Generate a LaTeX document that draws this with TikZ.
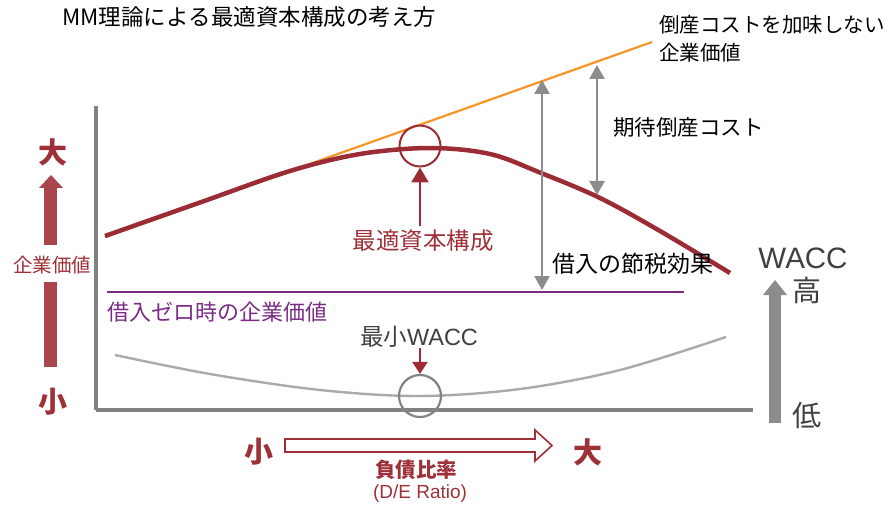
\documentclass[tikz,border=0pt]{standalone}
\usepackage{fontspec}
\setmainfont{Noto Sans CJK JP}[Kerning=Off]
\newfontfamily\latf{Liberation Sans}
\usetikzlibrary{arrows.meta}
\definecolor{dred}{RGB}{155,44,54}
\definecolor{tred}{RGB}{158,48,56}
\definecolor{ared}{RGB}{168,69,77}
\definecolor{orng}{RGB}{247,148,38}
\definecolor{purp}{RGB}{123,45,134}
\definecolor{gArr}{RGB}{140,140,140}
\definecolor{gCurve}{RGB}{170,170,170}
\definecolor{gAxis}{RGB}{130,130,130}
\definecolor{dtext}{RGB}{64,64,64}
\newcommand{\fs}[1]{\fontsize{#1}{#1}\selectfont}
\makeatletter
\newcommand\fwtext[1]{\@tfor\fwc:=#1\do{\makebox[1em]{\fwc}}}
\makeatother
\tikzset{
  lbl/.style={inner sep=0pt, font=\fs{20}},
  dblarr/.style={gArr, line width=2.6pt, {Triangle[length=14pt,width=15pt]}-{Triangle[length=14pt,width=15pt]}},
  redarr/.style={dred, line width=2.6pt, -{Triangle[length=15pt,width=17pt]}},
}
\begin{document}
\begin{tikzpicture}[x=1pt,y=-1pt]
\useasboundingbox (0,0) rectangle (896,505);
% title
\node[lbl, anchor=west, font=\fs{22.5}] (title) at (62,17) {MM\fwtext{理論による最適資本構成の考え方}};
% axes
\coordinate (ytop) at (96,106);
\coordinate (orig) at (96,410);
\coordinate (xend) at (753,410);
\draw[gAxis, line width=4pt] (ytop) -- (orig);
\draw[gAxis, line width=4.5pt] (orig) -- (xend);
% orange line
\coordinate (o1) at (105,237);
\coordinate (o2) at (652,42);
\draw[orng, line width=2.2pt] (o1) -- (o2);
% red value curve
\draw[dred, line width=4.5pt] plot[smooth, tension=0.55] coordinates {(105,236) (200,202.5) (290,171) (360,154) (430,148) (490,154) (541,173) (600,198) (660,231) (730,273)};
% purple line
\coordinate (p1) at (107,292);
\coordinate (p2) at (684,292);
\draw[purp, line width=2.4pt] (p1) -- (p2);
% gray WACC curve
\draw[gCurve, line width=2.4pt] plot[smooth, tension=0.55] coordinates {(115,355) (210,374) (320,390) (420,396) (520,389) (620,370) (726,337)};
% circles
\node[draw=dred, line width=2pt, circle, minimum size=41pt, inner sep=0pt] (optc) at (420,146) {};
\node[draw=gAxis, line width=2.2pt, circle, minimum size=42pt, inner sep=0pt] (minc) at (420,396) {};
% optimum label and arrow
\node[lbl, text=tred, font=\fs{23.5}] (opt) at (423,241) {最適資本構成};
\draw[redarr] (420,226) -- (optc.south);
% min WACC
\node[lbl, text=dtext, font=\fs{23.5}] (minw) at (419,337) {最小{\latf WACC}};
\draw[dred, line width=2.6pt, -{Triangle[length=12pt,width=15pt]}] (420,348) -- (minc.north);
% gray double arrows
\coordinate (a1t) at (542,80);
\coordinate (a1b) at (542,290);
\coordinate (a2t) at (597,65);
\coordinate (a2b) at (597,195);
\draw[dblarr] (a1t) -- (a1b);
\draw[dblarr] (a2t) -- (a2b);
\node[lbl, anchor=west, font=\fs{21.5}] (cost) at (613,127) {期待倒産コスト};
\node[lbl, anchor=west, font=\fs{23}] (tax) at (552,264) {借入の節税効果};
\node[lbl, anchor=west, text=purp, font=\fs{22}] (zero) at (107,312) {借入ゼロ時の企業価値};
% top right label
\node[lbl, anchor=west, font=\fs{20.5}] (nobk1) at (659,25) {\fwtext{倒産コストを加味しない}};
\node[lbl, anchor=west, font=\fs{20.5}] (nobk2) at (659,53) {企業価値};
% left vertical arrow
\fill[ared] (44,188) rectangle (57,245);
\fill[ared] (44,282) rectangle (57,367);
\fill[ared] (39,188) -- (63,188) -- (51,175) -- cycle;
\node[lbl, text=tred, font=\fs{19.5}] (ev) at (52,265) {企業価値};
\node[lbl, text=tred, font=\fs{29}\bfseries] (big1) at (53,152) {大};
\node[lbl, text=tred, font=\fs{29}\bfseries] (small1) at (53,402) {小};
% bottom hollow arrow
\draw[tred, line width=1.6pt, fill=white, line join=miter] (285,439) -- (535,439) -- (535,430) -- (552,445.5) -- (535,461) -- (535,452) -- (285,452) -- cycle;
\node[lbl, text=tred, font=\fs{29}\bfseries] (small2) at (259,452) {小};
\node[lbl, text=tred, font=\fs{29}\bfseries] (big2) at (588,452) {大};
\node[lbl, text=tred, font=\fs{20.5}\bfseries] (der) at (416,470) {負債比率};
\node[lbl, text=tred, font=\fs{19}\latf] (deratio) at (420,494) {(D/E Ratio)};
% right gray arrow
\fill[gArr] (769,295) rectangle (781,423);
\fill[gArr] (763,295) -- (787,295) -- (775,280) -- cycle;
\node[lbl, text=dtext, font=\fs{29.5}\latf] (wacc) at (803,258) {WACC};
\node[lbl, text=dtext, font=\fs{29}] (high) at (807,290) {高};
\node[lbl, text=dtext, font=\fs{29}] (low) at (807,416) {低};
\end{tikzpicture}
\end{document}
